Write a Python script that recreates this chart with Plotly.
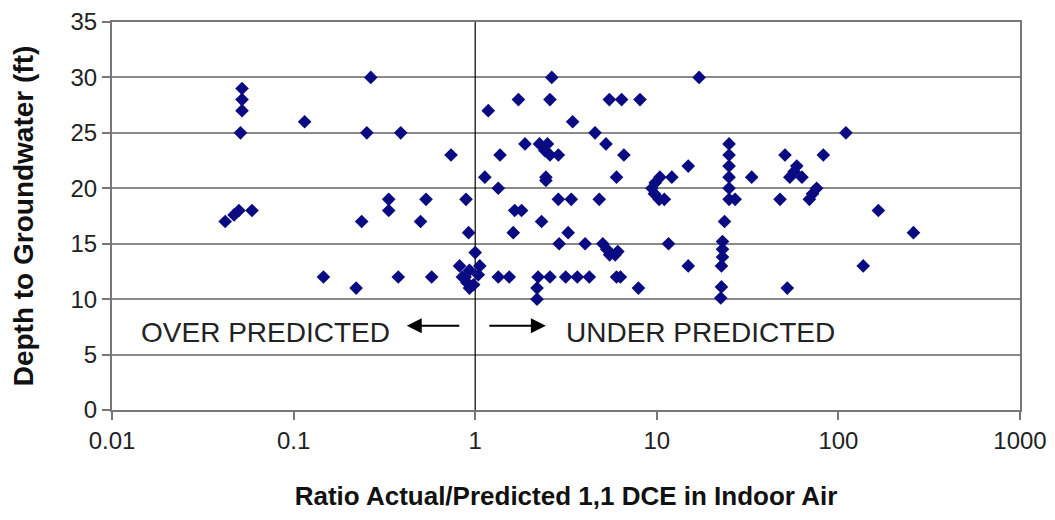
import math
import plotly.graph_objects as go

# ---- data ----
ratio = [
    0.042, 0.047, 0.050, 0.059,
    0.052, 0.052, 0.052, 0.051,
    0.115, 0.266, 0.253, 0.389, 0.736,
    0.334, 0.334, 0.536, 0.237, 0.50, 0.146, 0.221, 0.377, 0.576,
    0.89, 0.92,
    1.00, 0.82, 1.06, 0.85, 0.93, 1.04, 0.90, 0.93, 0.98, 0.88,
    1.18, 1.73, 2.64, 2.58, 3.44, 5.48, 6.40, 8.08, 17.1, 4.57, 5.25, 6.59,
    1.37, 1.88, 2.26, 2.50, 2.42, 2.58, 2.87,
    1.13, 1.34, 2.45, 2.45, 6.0, 2.87, 3.38, 4.82, 1.65, 1.80, 2.32, 1.62, 3.25,
    2.90, 4.03, 5.04, 5.3, 5.5, 5.9, 6.1, 11.6, 14.9, 14.9,
    1.34, 1.54, 2.22, 2.58, 3.15, 3.65, 4.25, 2.19, 2.19, 6.0, 6.3, 7.92,
    9.4, 9.8, 10.4, 12.1, 9.7, 10.3, 11.0,
    25, 25, 25, 25, 25, 25, 27, 33.3, 23.6, 23, 23, 23, 22.7, 22.7, 22.5,
    110, 50.8, 82.6, 59, 54, 63, 57, 75.9, 72, 69.2, 47.7, 166, 259, 137, 52.3,
]
depth = [
    17, 17.6, 18, 18,
    29, 28, 27, 25,
    26, 30, 25, 25, 23,
    19, 18, 19, 17, 17, 12, 11, 12, 12,
    19, 16,
    14.2, 13, 13, 12, 12.6, 12.2, 11.5, 11, 11.3, 12,
    27, 28, 30, 28, 26, 28, 28, 28, 30, 25, 24, 23,
    23, 24, 24, 24, 23.4, 23, 23,
    21, 20, 21, 20.7, 21, 19, 19, 19, 18, 18, 17, 16, 16,
    15, 15, 15, 14.5, 14, 14, 14.3, 15, 13, 22,
    12, 12, 12, 12, 12, 12, 12, 11, 10, 12, 12, 11,
    20, 20.5, 21, 21, 19.5, 19, 19,
    24, 23, 22, 21, 20, 19, 19, 21, 17, 15.2, 14.5, 13.8, 13, 11.1, 10.1,
    25, 23, 23, 22, 21, 21, 21.5, 20, 19.5, 19, 19, 18, 16, 13, 11,
]

x_ticks = [0.01, 0.1, 1, 10, 100, 1000]
x_tick_labels = ["0.01", "0.1", "1", "10", "100", "1000"]
y_ticks = [0, 5, 10, 15, 20, 25, 30, 35]

divider_x = [1, 1]
divider_y = [0, 35]

FONT = "Liberation Sans, Arial, sans-serif"
MARK = "#0a0a82"

fig = go.Figure()

fig.add_trace(go.Scatter(
    x=divider_x, y=divider_y, mode="lines",
    line=dict(color="black", width=1.2),
    hoverinfo="skip", showlegend=False,
))

fig.add_trace(go.Scatter(
    x=ratio, y=depth, mode="markers",
    marker=dict(symbol="diamond", size=10.5, color=MARK, line=dict(width=0)),
    showlegend=False,
))

L = math.log10
ann_y = 7.0
arrow_y = 7.6
fig.add_annotation(x=L(0.35), y=ann_y, text="OVER PREDICTED", showarrow=False,
                   xanchor="right", yanchor="middle",
                   font=dict(family=FONT, size=28, color="#222"))
fig.add_annotation(x=L(3.1), y=ann_y, text="UNDER PREDICTED", showarrow=False,
                   xanchor="left", yanchor="middle",
                   font=dict(family=FONT, size=28, color="#222"))
# left-pointing arrow
fig.add_annotation(x=L(0.42), y=arrow_y, ax=54, ay=0, axref="pixel", ayref="pixel",
                   text="", showarrow=True, arrowhead=2, arrowsize=1.5,
                   arrowwidth=2, arrowcolor="black")
# right-pointing arrow
fig.add_annotation(x=L(2.45), y=arrow_y, ax=-58, ay=0, axref="pixel", ayref="pixel",
                   text="", showarrow=True, arrowhead=2, arrowsize=1.5,
                   arrowwidth=2, arrowcolor="black")

fig.update_layout(
    width=1055, height=520,
    margin=dict(l=104, r=43, t=14, b=118),
    paper_bgcolor="white", plot_bgcolor="white",
    font=dict(family=FONT, color="#222"),
    xaxis=dict(
        type="log", range=[-2, 3], automargin=False,
        tickvals=x_ticks, ticktext=x_tick_labels,
        showgrid=False, zeroline=False,
        ticks="outside", ticklen=8, tickwidth=1.5, tickcolor="#777",
        showline=True, linecolor="#777", linewidth=2, mirror=True,
        tickfont=dict(family=FONT, size=24, color="#222"),
        ticklabelstandoff=0, ticklabeloverflow="allow",
        title=dict(text="<b>Ratio Actual/Predicted 1,1 DCE in Indoor Air</b>",
                   font=dict(family=FONT, size=26, color="#111"), standoff=34),
    ),
    yaxis=dict(
        range=[0, 35], tickvals=y_ticks, automargin=False,
        showgrid=True, gridcolor="#8a8a8a", gridwidth=1.5, zeroline=False,
        ticks="outside", ticklen=8, tickwidth=1.5, tickcolor="#777",
        showline=True, linecolor="#777", linewidth=2, mirror=True,
        tickfont=dict(family=FONT, size=24, color="#222"),
        ticklabeloverflow="allow",
        title=dict(text="<b>Depth to Groundwater (ft)</b>",
                   font=dict(family=FONT, size=28, color="#111"), standoff=30),
    ),
)

fig.write_html("out.html")
